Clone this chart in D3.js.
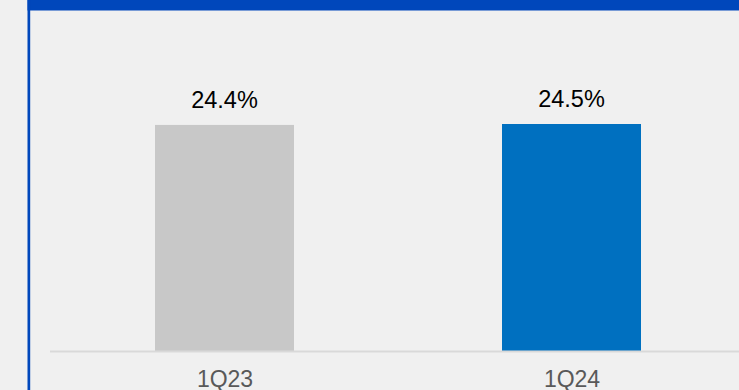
<!DOCTYPE html>
<html>
<head>
<meta charset="utf-8">
<script src="https://cdn.jsdelivr.net/npm/d3@7/dist/d3.min.js"></script>
<style>
  html, body { margin: 0; padding: 0; background: #f0f0f0; }
  svg { display: block; }
</style>
</head>
<body>
<script>
// Quarterly values (percent)
const categories = ["1Q23", "1Q24"];
const values = [24.4, 24.5];
const valueLabels = ["24.4%", "24.5%"];
const barColors = ["#c8c8c8", "#0070c0"];

const W = 739, H = 390;
const svg = d3.select("body").append("svg")
  .attr("width", W).attr("height", H)
  .style("font-family", "Arial, 'Liberation Sans', sans-serif");

svg.append("rect").attr("width", W).attr("height", H).attr("fill", "#f0f0f0");

// Frame accents: top band and left rule
svg.append("rect").attr("x", 27.5).attr("y", 0).attr("width", W - 27.5).attr("height", 10.5).attr("fill", "#0047bb");
svg.append("rect").attr("x", 27.5).attr("y", 0).attr("width", 2.7).attr("height", H).attr("fill", "#0047bb");

const baseY = 351;
const barW = 139;
// Bar centres along the x axis
const xc = d3.scalePoint().domain(categories).range([224.5, 571.5]);
const y = d3.scaleLinear().domain([0, 24.5]).range([baseY, 124]);

const data = categories.map((c, i) => ({ c, v: values[i], label: valueLabels[i], color: barColors[i] }));

// Bars
svg.selectAll("rect.bar").data(data).enter().append("rect")
  .attr("class", "bar")
  .attr("x", d => xc(d.c) - barW / 2)
  .attr("y", d => y(d.v))
  .attr("width", barW)
  .attr("height", d => y(0) - y(d.v))
  .attr("fill", d => d.color);

// Baseline axis
const axis = svg.append("g").attr("transform", `translate(0,${baseY})`)
  .call(d3.axisBottom(xc).tickSize(0).tickPadding(0));
axis.select(".domain").remove();
axis.append("line").attr("x1", 50).attr("x2", W).attr("y1", 0.5).attr("y2", 0.5)
  .attr("stroke", "#d9d9d9").attr("stroke-width", 1.8);
axis.selectAll(".tick text")
  .attr("y", 36)
  .attr("dy", 0)
  .attr("font-size", 23)
  .attr("font-family", "Arial, 'Liberation Sans', sans-serif")
  .attr("fill", "#595959");

// Value labels above bars
svg.selectAll("text.val").data(data).enter().append("text")
  .attr("class", "val")
  .attr("x", d => xc(d.c))
  .attr("y", d => y(d.v) - 17)
  .attr("text-anchor", "middle")
  .attr("font-size", 23.5)
  .attr("fill", "#000")
  .text(d => d.label);
</script>
</body>
</html>
